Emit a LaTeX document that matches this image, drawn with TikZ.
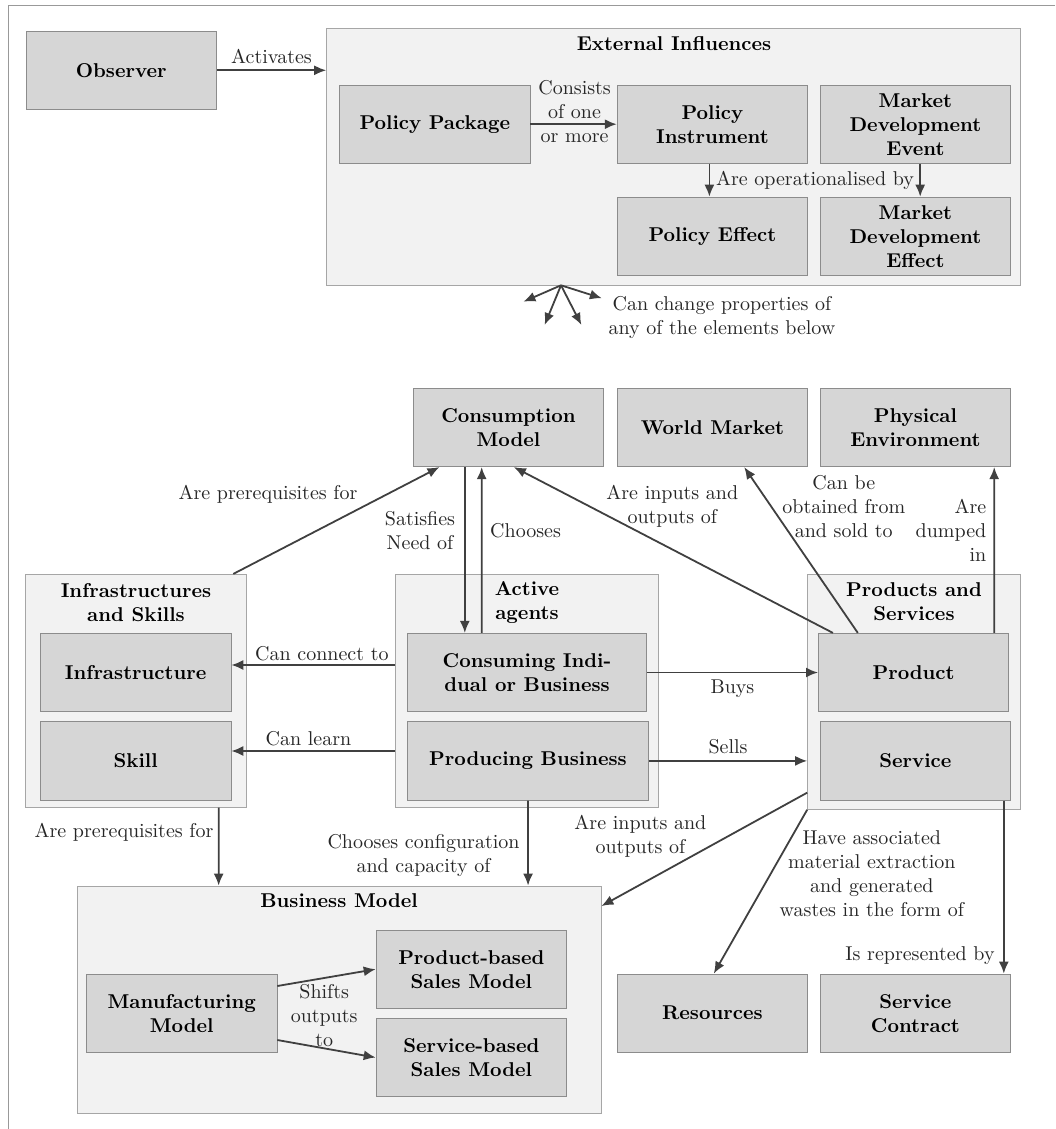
\documentclass[tikz,border=0pt]{standalone}
\usepackage{amsmath}
\usepackage{tikz}
\usetikzlibrary{arrows.meta,positioning,fit}
\tikzset{
    component/.style={
    rectangle,draw=black!45,fill=black!16,font=\bfseries,align=center,
    minimum width=95.2pt,minimum height=39.2pt,inner sep=1pt
    },
    group/.style={
    rectangle,draw=black!35,fill=black!5,inner sep=0pt
    },
    grouptitle/.style={
    font=\bfseries,align=center,inner sep=1pt
    },
    relation/.style={
    ->,color=black!75,line width=0.9pt
    },
    rlabel/.style={
    align=center,inner sep=1pt,text=black!85
    },
}
\begin{document}
\begin{tikzpicture}[x=0.5pt,y=-0.5pt,>={Latex[length=6pt,width=5pt]}]
   \useasboundingbox (0,0) rectangle (1055,1129);
   \draw[black!40,line width=0.5pt] (1055,6) -- (8,6) -- (8,1129);

   % groups
   \node[group,fit={(326.6,28.3) (1020.5,285.3)}] (EI) {};
   \node[group,fit={(25.4,574.3) (246.8,807.3)}] (IS) {};
   \node[group,fit={(395.5,574.3) (658.2,807.3)}] (AG) {};
   \node[group,fit={(807.6,574) (1020.5,809.3)}] (PS) {};
   \node[group,fit={(77.1,886) (601,1113.3)}] (BM) {};
   \node[grouptitle] (EIt) at (674,44) {External Influences};
   \node[grouptitle] (ISt) at (136,602.5) {Infrastructures\\and Skills};
   \node[grouptitle] (AGt) at (527,602.5) {Active\\agents};
   \node[grouptitle] (PSt) at (914,601.7) {Products and\\Services};
   \node[grouptitle] (BMt) at (339,901) {Business Model};

   % elements
   \node[component] (Obs) at (121.2,70.3) {Observer};
   \node[component] (PP) at (434.8,124.2) {Policy Package};
   \node[component] (PI) at (712.4,124.2) {Policy\\Instrument};
   \node[component] (MDE) at (915.4,124.2) {Market\\Development\\Event};
   \node[component] (PE) at (712.4,236.3) {Policy Effect};
   \node[component] (MDF) at (915.4,236.3) {Market\\Development\\Effect};
   \node[component] (CM) at (508.4,427.5) {Consumption\\Model};
   \node[component] (WM) at (712.4,427.5) {World Market};
   \node[component] (PhE) at (915.4,427.5) {Physical\\Environment};
   \node[component] (Inf) at (135.7,672.5) {Infrastructure};
   \node[component] (Sk) at (135.7,760.9) {Skill};
   \node[component,minimum width=119.6pt] (CIB) at (527,672.5) {Consuming Indi-\\dual or Business};
   \node[component,minimum width=120.6pt] (PB) at (528,760.9) {Producing Business};
   \node[component] (Pr) at (913.6,672.5) {Product};
   \node[component] (Sv) at (915.4,760.9) {Service};
   \node[component] (MM) at (181.7,1013.2) {Manufacturing\\Model};
   \node[component] (PBS) at (471.3,969.2) {Product-based\\Sales Model};
   \node[component] (SBS) at (471.3,1057.5) {Service-based\\Sales Model};
   \node[component] (Res) at (712.4,1013.2) {Resources};
   \node[component] (SC) at (915.4,1013.2) {Service\\Contract};

   % free ends of the fan
   \coordinate (fan) at (561,285.3);
   \coordinate (fan1) at (523.4,301.7);
   \coordinate (fan2) at (544.6,325);
   \coordinate (fan3) at (581.4,325);
   \coordinate (fan4) at (601.9,298.3);

   % labels
   \node[rlabel] (conslbl) at (574.6,111.7) {Consists\\of one\\or more};
   \node[rlabel] (oplbl) at (815,180) {Are operationalised by};
   \node[rlabel] (chglbl) at (722,317.5) {Can change properties of\\any of the elements below};
   \node[rlabel] (satlbl) at (420,530.5) {Satisfies\\Need of};
   \node[rlabel] (chslbl) at (525.6,531) {Chooses};
   \node[rlabel] (prelbl) at (268,494) {Are prerequisites for};
   \node[rlabel] (conlbl) at (321.9,653.3) {Can connect to};
   \node[rlabel] (lrnlbl) at (308.5,738.3) {Can learn};
   \node[rlabel] (iolbl) at (672.3,506.2) {Are inputs and\\outputs of};
   \node[rlabel] (wmlbl) at (843.8,506.7) {Can be\\obtained from\\and sold to};
   \node[rlabel,align=right,anchor=east] (dmplbl) at (988.7,530.5) {Are\\dumped\\in};
   \node[rlabel] (io2lbl) at (640.4,836.7) {Are inputs and\\outputs of};
   \node[rlabel] (reslbl) at (871.8,873.3) {Have associated\\material extraction\\and generated\\wastes in the form of};
   \node[rlabel] (replbl) at (920,955.7) {Is represented by};
   \node[rlabel] (pre2lbl) at (124,832.3) {Are prerequisites for};
   \node[rlabel] (cfglbl) at (423.5,855) {Chooses configuration\\and capacity of};
   \node[rlabel] (shflbl) at (324.2,1015.8) {Shifts\\outputs\\to};

  \path[relation]
    (Obs) edge node[rlabel,above=2pt] {Activates} (Obs -| EI.west)
    (PP) edge (PI)
    ([xshift=-1.5pt]PI.south) edge ([xshift=-1.5pt]PE.north)
    ([xshift=2.4pt]MDE.south) edge ([xshift=2.4pt]MDF.north)
    (fan) edge (fan1) edge (fan2) edge (fan3) edge (fan4)
    ([xshift=-21.8pt]CM.south) edge ([xshift=-31.1pt]CIB.north)
    ([xshift=-22.65pt]CIB.north) edge ([xshift=-13.35pt]CM.south)
    ([xshift=48.6pt]IS.north) edge ([xshift=-34.45pt]CM.south)
    ([yshift=12.9pt]AG.west) edge ([yshift=3.75pt]Inf.east)
    ([yshift=-30.1pt]AG.west) edge ([yshift=4.95pt]Sk.east)
    (CIB) edge node[rlabel,below=2pt] {Buys} (Pr)
    (PB) edge node[rlabel,above=2pt] {Sells} (PB -| PS.west)
    ([xshift=-40.35pt]Pr.north) edge ([xshift=2.75pt]CM.south)
    ([xshift=-27.9pt]Pr.north) edge ([xshift=15.9pt]WM.south)
    ([xshift=40.3pt]Pr.north) edge ([xshift=39.4pt]PhE.south)
    ([yshift=-50.5pt]PS.west) edge ([yshift=46.8pt]BM.east)
    (PS.south west) edge ([xshift=0.7pt]Res.north)
    ([xshift=44.2pt]Sv.south) edge ([xshift=44.2pt]SC.north)
    ([xshift=41.3pt]IS.south) edge ([xshift=-60.2pt]BM.north)
    (PB.south) edge ([xshift=94.5pt]BM.north)
    ([yshift=13.6pt]MM.east) edge (PBS.west)
    ([yshift=-13.4pt]MM.east) edge (SBS.west);
\end{tikzpicture}
\end{document}
